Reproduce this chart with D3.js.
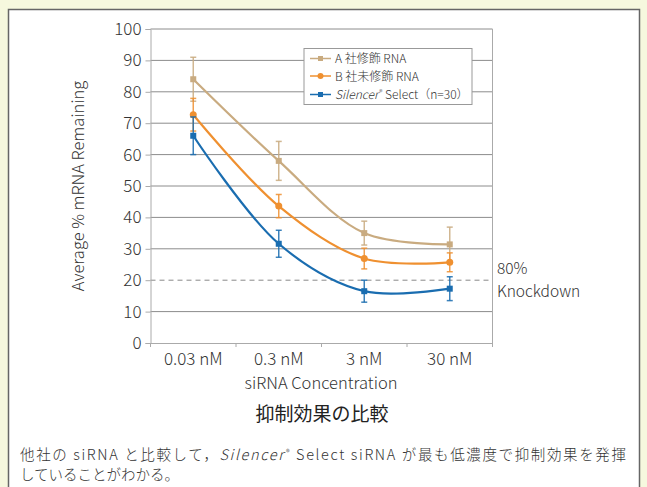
<!DOCTYPE html>
<html>
<head>
<meta charset="utf-8">
<script src="https://cdn.jsdelivr.net/npm/d3@7"></script>
<style>
  body { margin: 0; background: #f6f8de; }
  svg { display: block; font-family: "Noto Sans CJK JP", "Noto Sans", sans-serif; }
  .light { font-weight: 300; }
</style>
</head>
<body>
<svg id="chart"></svg>
<script>
// data
const concentrations = ['0.03 nM', '0.3 nM', '3 nM', '30 nM'];
const companyA = [84, 58, 35, 31.4];        // A社修飾 RNA
const companyAErr = [7, 6.2, 3.8, 5.5];
const companyB = [72.7, 43.6, 26.9, 25.7];  // B社未修飾 RNA
const companyBErr = [5.2, 3.7, 3.3, 3];
const silencer = [66, 31.6, 16.5, 17.3];    // Silencer Select (n=30)
const silencerErr = [6, 4.3, 3.5, 3.8];
const yTicks = [0, 10, 20, 30, 40, 50, 60, 70, 80, 90, 100];
const knockdown = 20;

const width = 647, height = 487;
const svg = d3.select('#chart').attr('width', width).attr('height', height);

// white panel
svg.append('rect')
  .attr('x', 8.5).attr('y', 9.5)
  .attr('width', 631).attr('height', 490)
  .attr('fill', '#fff')
  .attr('stroke', '#666')
  .attr('stroke-width', 1.5);

const x = d3.scaleBand().domain(concentrations).range([150.5, 492.5]);
const y = d3.scaleLinear().domain([0, 100]).range([343, 29]);

const series = [
  { name: 'A', values: companyA, err: companyAErr, color: '#c9ab80', marker: 'square' },
  { name: 'B', values: companyB, err: companyBErr, color: '#ef9030', marker: 'circle' },
  { name: 'S', values: silencer, err: silencerErr, color: '#1a6db0', marker: 'square' }
];

// gridlines
svg.append('g')
  .selectAll('line')
  .data(yTicks.filter(d => d > 0 && d !== knockdown))
  .enter().append('line')
  .attr('x1', x.range()[0]).attr('x2', x.range()[1])
  .attr('y1', d => y(d)).attr('y2', d => y(d))
  .attr('stroke', '#8c8c8c').attr('stroke-width', 1);

// right border of plot
svg.append('line')
  .attr('x1', x.range()[1]).attr('x2', x.range()[1])
  .attr('y1', y(100)).attr('y2', y(0))
  .attr('stroke', '#aaa');

// 80% knockdown
svg.append('line')
  .attr('x1', x.range()[0]).attr('x2', x.range()[1])
  .attr('y1', y(knockdown)).attr('y2', y(knockdown))
  .attr('stroke', '#888').attr('stroke-dasharray', '5,4');

svg.append('text').attr('class', 'light')
  .attr('x', 497).attr('y', 274)
  .attr('font-size', 15.5).attr('fill', '#333')
  .text('80%');
svg.append('text').attr('class', 'light')
  .attr('x', 497).attr('y', 297)
  .attr('font-size', 15.5).attr('fill', '#333')
  .text('Knockdown');

// axes
const yAxis = svg.append('g')
  .attr('transform', `translate(${x.range()[0]},0)`)
  .call(d3.axisLeft(y).tickValues(yTicks).tickSize(5).tickPadding(4));
yAxis.selectAll('text').attr('font-size', 17).attr('fill', '#333')
  .attr('font-family', '"Noto Sans CJK JP", sans-serif').attr('font-weight', 300);
yAxis.selectAll('line, path').attr('stroke', '#aaa');

const xAxis = svg.append('g')
  .attr('transform', `translate(0,${y(0)})`)
  .call(d3.axisBottom(x).tickSize(0).tickPadding(10));
xAxis.select('.domain').attr('stroke', '#aaa');
xAxis.selectAll('text').attr('font-size', 17).attr('fill', '#333')
  .attr('font-family', '"Noto Sans CJK JP", sans-serif').attr('font-weight', 300);
// ticks between categories
svg.append('g')
  .selectAll('line')
  .data(concentrations.concat(['end']))
  .enter().append('line')
  .attr('x1', (d, i) => x.range()[0] + i * x.step())
  .attr('x2', (d, i) => x.range()[0] + i * x.step())
  .attr('y1', y(0)).attr('y2', y(0) + 4)
  .attr('stroke', '#aaa');

svg.append('text').attr('class', 'light')
  .attr('x', 321).attr('y', 389)
  .attr('text-anchor', 'middle')
  .attr('font-size', 16.5).attr('fill', '#333')
  .text('siRNA Concentration');

svg.append('text').attr('class', 'light')
  .attr('transform', `translate(84,${(y(0) + y(100)) / 2}) rotate(-90)`)
  .attr('text-anchor', 'middle')
  .attr('font-size', 16.5).attr('fill', '#333')
  .text('Average % mRNA Remaining');

// lines, error bars and markers
const line = d3.line()
  .x((d, i) => x(concentrations[i]) + x.bandwidth() / 2)
  .y(d => y(d))
  .curve(d3.curveCatmullRom.alpha(0.5));

series.forEach(s => {
  const g = svg.append('g');
  g.append('path')
    .attr('d', line(s.values))
    .attr('fill', 'none')
    .attr('stroke', s.color)
    .attr('stroke-width', 2.2);

  const bars = g.selectAll('.err')
    .data(s.values)
    .enter().append('g')
    .attr('transform', (d, i) => `translate(${x(concentrations[i]) + x.bandwidth() / 2},0)`);
  bars.append('line')
    .attr('y1', (d, i) => y(d + s.err[i]))
    .attr('y2', (d, i) => y(d - s.err[i]))
    .attr('stroke', s.color).attr('stroke-width', 1.5).attr('opacity', 0.85);
  bars.append('line')
    .attr('x1', -3).attr('x2', 3)
    .attr('y1', (d, i) => y(d + s.err[i])).attr('y2', (d, i) => y(d + s.err[i]))
    .attr('stroke', s.color).attr('stroke-width', 1.5).attr('opacity', 0.85);
  bars.append('line')
    .attr('x1', -3).attr('x2', 3)
    .attr('y1', (d, i) => y(d - s.err[i])).attr('y2', (d, i) => y(d - s.err[i]))
    .attr('stroke', s.color).attr('stroke-width', 1.5).attr('opacity', 0.85);
  if (s.marker === 'circle') {
    bars.append('circle').attr('cy', d => y(d)).attr('r', 3.5).attr('fill', s.color);
  } else {
    bars.append('rect').attr('x', -3).attr('y', d => y(d) - 3)
      .attr('width', 6).attr('height', 6).attr('fill', s.color);
  }
});

// legend
const legend = svg.append('g');
legend.append('rect')
  .attr('x', 304).attr('y', 48.5)
  .attr('width', 168).attr('height', 56)
  .attr('fill', '#fff').attr('stroke', '#999');
const legendY = [58.5, 76, 94.5];
series.forEach((s, i) => {
  legend.append('line')
    .attr('x1', 310).attr('x2', 331)
    .attr('y1', legendY[i]).attr('y2', legendY[i])
    .attr('stroke', s.color).attr('stroke-width', 1.5);
  if (s.marker === 'circle') {
    legend.append('circle').attr('cx', 320.5).attr('cy', legendY[i]).attr('r', 3).attr('fill', s.color);
  } else {
    legend.append('rect').attr('x', 318).attr('y', legendY[i] - 2.5)
      .attr('width', 5).attr('height', 5).attr('fill', s.color);
  }
});
const legendText = legend.append('g').attr('font-size', 12).attr('fill', '#333').attr('font-weight', 300);
legendText.append('text').attr('x', 335).attr('y', legendY[0] + 4.5).text('A 社修飾 RNA');
legendText.append('text').attr('x', 335).attr('y', legendY[1] + 4.5).text('B 社未修飾 RNA');
const sl = legendText.append('text').attr('x', 335).attr('y', legendY[2] + 4.5);
sl.append('tspan').attr('font-style', 'italic').text('Silencer');
sl.append('tspan').attr('font-size', 7).attr('dy', -4).attr('dx', 1).text('®');
sl.append('tspan').attr('dy', 4).text(' Select（n=30）');

// title and caption
svg.append('text')
  .attr('x', 322).attr('y', 421)
  .attr('text-anchor', 'middle')
  .attr('font-size', 19).attr('font-weight', 400).attr('fill', '#222')
  .text('抑制効果の比較');

const cap1 = svg.append('text')
  .attr('x', 20).attr('y', 460)
  .attr('font-size', 14.5).attr('fill', '#333').attr('font-weight', 300)
  .attr('textLength', 606).attr('lengthAdjust', 'spacing');
cap1.append('tspan').text('他社の siRNA と比較して，');
cap1.append('tspan').attr('font-style', 'italic').text('Silencer');
cap1.append('tspan').attr('font-size', 8).attr('dy', -5).attr('dx', 1).text('®');
cap1.append('tspan').attr('dy', 5).text(' Select siRNA が最も低濃度で抑制効果を発揮');

svg.append('text')
  .attr('x', 20).attr('y', 480)
  .attr('font-size', 14.5).attr('fill', '#333').attr('font-weight', 300)
  .text('していることがわかる。');
</script>
</body>
</html>
